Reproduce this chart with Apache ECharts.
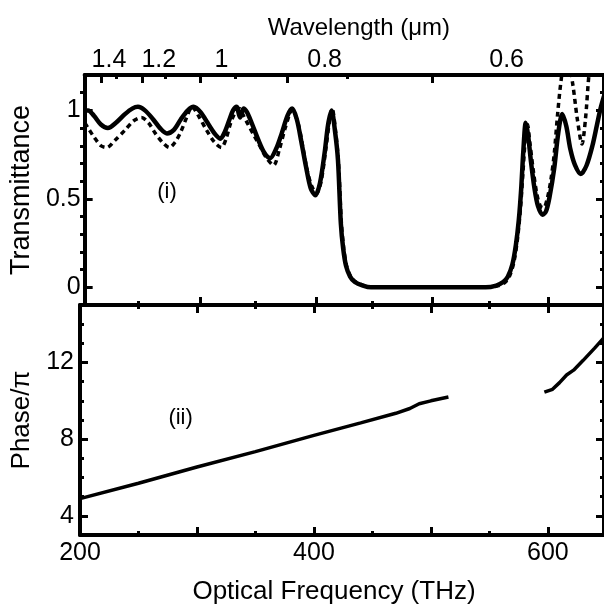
<!DOCTYPE html>
<html>
<head>
<meta charset="utf-8">
<script src="https://cdn.jsdelivr.net/npm/echarts@6/dist/echarts.min.js"></script>
<style>
  html, body { margin: 0; padding: 0; background: #ffffff; }
  #chart { width: 604px; height: 607px; }
</style>
</head>
<body>
<div id="chart"></div>
<script>
// ---- Transmittance, solid curve ----
const freqSolid = [200, 203, 208, 214, 220, 227, 235, 241, 246, 252, 259, 265, 271, 277, 283, 289, 294, 300, 306, 312, 317, 321, 325, 328, 331, 334, 337, 340, 344, 350, 355, 360, 365, 370, 375, 379, 383, 387, 391, 395, 399, 403, 407, 410, 413, 416, 418.5, 421, 423, 425.5, 429, 433, 440, 447, 480, 520, 546, 555, 561, 565, 569, 572, 574.5, 576.5, 578.5, 580.5, 582.5, 585, 588, 591, 595, 598, 601, 605, 608.5, 612, 615.5, 619, 623, 628, 633, 638, 642, 645, 648];
const transSolid = [1.00, 1.00, 0.97, 0.92, 0.90, 0.93, 0.98, 1.01, 1.02, 1.00, 0.95, 0.90, 0.87, 0.89, 0.95, 1.00, 1.02, 0.99, 0.93, 0.87, 0.84, 0.88, 0.95, 1.00, 1.02, 0.96, 1.01, 0.99, 0.93, 0.83, 0.76, 0.73, 0.78, 0.87, 0.97, 1.01, 0.95, 0.82, 0.68, 0.56, 0.52, 0.59, 0.76, 0.92, 1.00, 0.88, 0.72, 0.36, 0.22, 0.12, 0.06, 0.03, 0.01, 0.00, 0.00, 0.00, 0.00, 0.01, 0.03, 0.06, 0.13, 0.24, 0.38, 0.55, 0.78, 0.93, 0.86, 0.71, 0.56, 0.46, 0.41, 0.43, 0.51, 0.67, 0.87, 0.98, 0.91, 0.78, 0.69, 0.64, 0.69, 0.80, 0.92, 1.01, 1.08];

// ---- Transmittance, dotted curve ----
const freqDotted = [200, 203, 208, 214, 219, 226, 235, 242, 249, 255, 261, 267, 273, 278, 283, 288, 292.5, 299, 305, 312, 318, 322, 326, 330, 333.5, 337, 341, 346, 351, 357, 363, 368, 373, 379, 384, 388, 392, 396, 400, 404, 408, 411, 413.5, 416.5, 419, 421.5, 423.5, 426, 429.5, 434, 441, 448, 480, 520, 548, 557, 563, 567, 570.5, 573.5, 576, 578, 580, 582, 584, 587, 590, 593, 596, 599, 602, 605, 608, 611, 614, 617, 621, 625, 629, 632, 635, 638, 648];
const transDotted = [0.93, 0.90, 0.85, 0.80, 0.79, 0.83, 0.89, 0.94, 0.96, 0.93, 0.87, 0.82, 0.79, 0.82, 0.88, 0.96, 1.02, 0.96, 0.89, 0.82, 0.79, 0.84, 0.93, 0.99, 1.01, 0.97, 0.92, 0.86, 0.80, 0.73, 0.69, 0.78, 0.90, 1.00, 0.93, 0.80, 0.66, 0.57, 0.53, 0.60, 0.78, 0.93, 1.01, 0.88, 0.70, 0.36, 0.22, 0.12, 0.06, 0.03, 0.01, 0.00, 0.00, 0.00, 0.00, 0.01, 0.03, 0.07, 0.15, 0.28, 0.45, 0.64, 0.83, 0.92, 0.82, 0.66, 0.53, 0.46, 0.45, 0.50, 0.60, 0.75, 0.98, 1.17, 1.28, 1.28, 1.15, 0.95, 0.81, 0.95, 1.20, 1.35, 1.40];

// ---- Phase / pi (two measured stretches with a gap between) ----
const freqPhase = [200, 250, 300, 350, 400, 440, 470, 482, 490, 500, 515, 555, 597, 604, 610, 616, 622, 630, 640, 648];
const phaseVals = [4.9, 5.7, 6.55, 7.35, 8.2, 8.85, 9.35, 9.6, 9.85, 10.0, 10.2, null, 10.45, 10.6, 10.95, 11.35, 11.6, 12.1, 12.75, 13.3];

// ---- Axis ticks and labels ----
const freqMajorTicks = [200, 300, 400, 500, 600];
const freqMinorTicks = [250, 350, 450, 550];
const freqLabels = [200, 400, 600];
const wavelengthMajor = [1.4, 1.2, 1.0, 0.8, 0.6];
const wavelengthMinor = [1.3, 1.1, 0.9, 0.7];
const wavelengthLabels = ['1.4', '1.2', '1', '0.8', '0.6'];
const wavelengthLabelFreq = [221, 264, 318, 407, 564];
const transMajorTicks = [0, 0.5, 1];
const transMinorTicks = [0.1, 0.2, 0.3, 0.4, 0.6, 0.7, 0.8, 0.9, 1.1];
const phaseMajorTicks = [4, 8, 12];
const phaseMinorTicks = [5, 6, 7, 9, 10, 11, 13, 14];

const C_LIGHT = 299.792458; // THz·µm
const toFreq = (lam) => C_LIGHT / lam;

const FONT = '"Liberation Sans", Arial, Helvetica, sans-serif';
const INK = '#000000';
const F_MIN = 200, F_MAX = 648;
const T_MIN = -0.1, T_MAX = 1.2;
const P_MIN = 3, P_MAX = 15;

const pairs = (xs, ys) => xs.map((x, i) => [x, ys[i]]);

// an axis that carries tick marks (and optionally a line, labels, a name)
function axis(gridIndex, position, min, max, ticks, len, extra) {
  const a = {
    type: 'value',
    gridIndex: gridIndex,
    position: position,
    min: min,
    max: max,
    splitLine: { show: false },
    axisLine: { show: false, onZero: false },
    axisTick: {
      show: true, inside: true, length: len,
      customValues: ticks,
      lineStyle: { color: INK, width: 3 }
    },
    axisLabel: { show: false }
  };
  return Object.assign(a, extra || {});
}

const lineOn = { show: true, onZero: false, lineStyle: { color: INK, width: 4 } };
const labelText = { fontFamily: FONT, fontSize: 25, color: INK };

const option = {
  animation: false,
  backgroundColor: '#ffffff',
  textStyle: { fontFamily: FONT, color: INK },
  grid: [
    { left: 80, top: 75, width: 528, height: 230 },
    { left: 80, top: 305, width: 528, height: 230 },
    { left: 80, top: 75, width: 528, height: 230 },
    { left: 80, top: 305, width: 528, height: 230 }
  ],
  xAxis: [
    // 0: wavelength scale across the top of the transmittance panel
    axis(0, 'top', F_MIN, F_MAX, wavelengthMajor.map(toFreq), 8, {
      axisLine: lineOn,
      name: 'Wavelength (μm)',
      nameLocation: 'middle',
      nameGap: 35,
      nameTextStyle: { fontFamily: FONT, fontSize: 24, color: INK, padding: [0, 0, 0, 29] },
      axisLabel: Object.assign({
        show: true, margin: 2,
        customValues: wavelengthLabelFreq,
        formatter: (v) => {
          const i = wavelengthLabelFreq.findIndex((f) => Math.abs(f - v) < 1e-6);
          return i >= 0 ? wavelengthLabels[i] : '';
        }
      }, labelText)
    }),
    // 1: panel divider, seen from the transmittance panel
    axis(0, 'bottom', F_MIN, F_MAX, freqMajorTicks, 8, { axisLine: lineOn }),
    // 2: panel divider, seen from the phase panel
    axis(1, 'top', F_MIN, F_MAX, freqMajorTicks, 8, { axisLine: lineOn }),
    // 3: frequency axis with labels
    axis(1, 'bottom', F_MIN, F_MAX, freqMajorTicks, 8, {
      axisLine: lineOn,
      name: 'Optical Frequency (THz)',
      nameLocation: 'middle',
      nameGap: 44,
      nameTextStyle: { fontFamily: FONT, fontSize: 26, color: INK, padding: [0, 16, 0, 0] },
      axisLabel: Object.assign({ show: true, margin: 6, customValues: freqLabels }, labelText)
    }),
    // 4-7: minor tick marks
    axis(2, 'top', F_MIN, F_MAX, wavelengthMinor.map(toFreq), 4),
    axis(2, 'bottom', F_MIN, F_MAX, freqMinorTicks, 4),
    axis(3, 'top', F_MIN, F_MAX, freqMinorTicks, 4),
    axis(3, 'bottom', F_MIN, F_MAX, freqMinorTicks, 4)
  ],
  yAxis: [
    // 0: transmittance
    axis(0, 'left', T_MIN, T_MAX, transMajorTicks, 8, {
      axisLine: lineOn,
      name: 'Transmittance',
      nameLocation: 'middle',
      nameGap: 40,
      nameTextStyle: { fontFamily: FONT, fontSize: 27, color: INK },
      axisLabel: Object.assign({ show: true, margin: 4, customValues: transMajorTicks }, labelText)
    }),
    axis(0, 'right', T_MIN, T_MAX, transMajorTicks, 8, { axisLine: lineOn }),
    // 2: phase
    axis(1, 'left', P_MIN, P_MAX, phaseMajorTicks, 8, {
      axisLine: lineOn,
      name: 'Phase/π',
      nameLocation: 'middle',
      nameGap: 33,
      nameTextStyle: { fontFamily: FONT, fontSize: 26, color: INK },
      axisLabel: Object.assign({ show: true, margin: 6, customValues: phaseMajorTicks }, labelText)
    }),
    axis(1, 'right', P_MIN, P_MAX, phaseMajorTicks, 8, { axisLine: lineOn }),
    // 4-7: minor tick marks
    axis(2, 'left', T_MIN, T_MAX, transMinorTicks, 4),
    axis(2, 'right', T_MIN, T_MAX, transMinorTicks, 4),
    axis(3, 'left', P_MIN, P_MAX, phaseMinorTicks, 4),
    axis(3, 'right', P_MIN, P_MAX, phaseMinorTicks, 4)
  ],
  series: [
    {
      name: 'dotted', type: 'line', xAxisIndex: 1, yAxisIndex: 0,
      data: pairs(freqDotted, transDotted),
      showSymbol: false, symbol: 'none', smooth: 0.3, clip: true,
      lineStyle: { color: INK, width: 3.5, type: [5, 4] },
      z: 2
    },
    {
      name: 'solid', type: 'line', xAxisIndex: 1, yAxisIndex: 0,
      data: pairs(freqSolid, transSolid),
      showSymbol: false, symbol: 'none', smooth: 0.3, clip: true,
      lineStyle: { color: INK, width: 4.5 },
      z: 3,
      markPoint: {
        symbol: 'circle', symbolSize: 0,
        label: { show: true, position: 'inside', fontFamily: FONT, fontSize: 22, color: INK, formatter: '(i)' },
        data: [{ coord: [271, 0.54] }]
      }
    },
    {
      name: 'phase', type: 'line', xAxisIndex: 3, yAxisIndex: 2,
      data: pairs(freqPhase, phaseVals),
      showSymbol: false, symbol: 'none', connectNulls: false, clip: true,
      lineStyle: { color: INK, width: 3.5 },
      z: 3,
      markPoint: {
        symbol: 'circle', symbolSize: 0,
        label: { show: true, position: 'inside', fontFamily: FONT, fontSize: 22, color: INK, formatter: '(ii)' },
        data: [{ coord: [286, 9.1] }]
      }
    }
  ]
};

const chart = echarts.init(document.getElementById('chart'), null, { renderer: 'canvas' });
chart.setOption(option);
</script>
</body>
</html>
